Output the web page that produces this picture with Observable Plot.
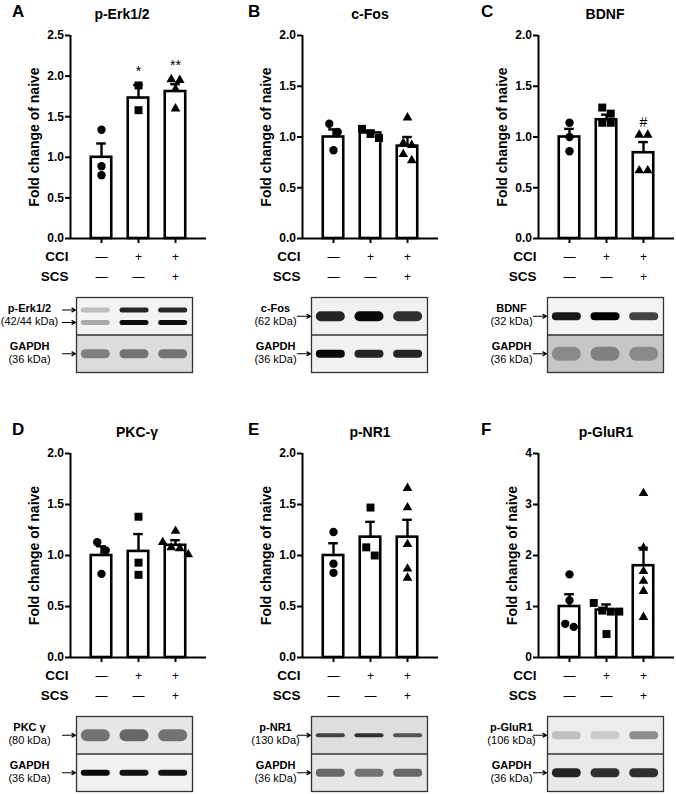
<!DOCTYPE html>
<html><head><meta charset="utf-8">
<script src="https://cdn.jsdelivr.net/npm/d3@7"></script>
<script src="https://cdn.jsdelivr.net/npm/@observablehq/plot@0.6"></script>
<style>
body{margin:0;background:#fff;font-family:"Liberation Sans",Arial,Helvetica,sans-serif;}
#fig{position:relative;width:676px;height:794px;overflow:hidden;background:#fff;}
.abs{position:absolute;white-space:nowrap;line-height:1;color:#000;}
.letter{font-weight:bold;font-size:17px;}
.title{font-weight:bold;font-size:14px;transform:translateX(-50%);}
</style></head><body><div id="fig"></div>
<script>
// ---------------- DATA ----------------
const groupIndex = [1, 2, 3];
const groupNames = ["Naive", "CCI", "CCI + SCS"];
const cciSigns = ["—", "+", "+"];
const scsSigns = ["—", "—", "+"];
const groupSymbols = ["circle", "square", "triangle"];
const rowLabels = ["CCI", "SCS"];
const yLabel = "Fold change of naive";

const panelLetters = ["A", "B", "C", "D", "E", "F"];
const panelTitles = ["p-Erk1/2", "c-Fos", "BDNF", "PKC-γ", "p-NR1", "p-GluR1"];

const yTicksA = [0, 0.5, 1, 1.5, 2, 2.5];
const yTickLabelsA = ["0.0", "0.5", "1.0", "1.5", "2.0", "2.5"];
const yTicks2 = [0, 0.5, 1, 1.5, 2];
const yTickLabels2 = ["0.0", "0.5", "1.0", "1.5", "2.0"];
const yTicksF = [0, 1, 2, 3, 4];
const yTickLabelsF = ["0", "1", "2", "3", "4"];

// A: p-Erk1/2
const meanA = [1.00, 1.73, 1.81];
const semA = [0.17, 0.16, 0.09];
const ptsA = [[1.34, 0.89, 0.78], [1.885, 1.58], [1.96, 1.95, 1.84, 1.60]];
const sigA = ["", "*", "**"];
const sigYA = [null, 2.06, 2.13];
// B: c-Fos
const meanB = [1.00, 1.04, 0.91];
const semB = [0.075, 0.025, 0.09];
const ptsB = [[1.13, 1.05, 0.87], [1.08, 1.03, 0.99], [1.19, 0.94, 0.92, 0.83, 0.77]];
const sigB = ["", "", ""];
const sigYB = [null, null, null];
// C: BDNF
const meanC = [1.00, 1.17, 0.845];
const semC = [0.08, 0.05, 0.105];
const ptsC = [[1.14, 1.00, 0.86], [1.29, 1.23, 1.14, 1.14], [1.02, 1.02, 0.67, 0.67]];
const sigC = ["", "", "#"];
const sigYC = [null, null, 1.14];
// D: PKC-gamma
const meanD = [1.00, 1.04, 1.10];
const semD = [0.09, 0.17, 0.05];
const ptsD = [[1.13, 1.05, 0.82], [1.38, 0.93, 0.81], [1.24, 1.13, 1.08, 1.07, 1.01]];
const sigD = ["", "", ""];
const sigYD = [null, null, null];
// E: p-NR1
const meanE = [1.00, 1.18, 1.18];
const semE = [0.12, 0.15, 0.17];
const ptsE = [[1.23, 0.92, 0.83], [1.47, 1.08, 1.00], [1.66, 1.47, 1.11, 0.87, 0.78]];
const sigE = ["", "", ""];
const sigYE = [null, null, null];
// F: p-GluR1
const meanF = [1.00, 0.93, 1.80];
const semF = [0.24, 0.11, 0.35];
const ptsF = [[1.63, 1.12, 0.66, 0.60], [1.07, 0.92, 0.90, 0.90, 0.46], [3.22, 2.15, 1.69, 1.50, 1.30, 0.79]];
const sigF = ["", "", ""];
const sigYF = [null, null, null];

// Western blots: relative band intensity per lane (0..1)
const blotNames = ["p-Erk1/2", "c-Fos", "BDNF", "PKC γ", "p-NR1", "p-GluR1"];
const blotKDa = ["(42/44 kDa)", "(62 kDa)", "(32 kDa)", "(80 kDa)", "(130 kDa)", "(106 kDa)"];
const loadingName = "GAPDH";
const loadingKDa = "(36 kDa)";
const bandsA = [[0.22, 0.85, 0.85], [0.30, 0.95, 0.95]];
const bandsB = [[0.85, 0.97, 0.80]];
const bandsC = [[0.90, 1.00, 0.72]];
const bandsD = [[0.50, 0.55, 0.50]];
const bandsE = [[0.70, 0.78, 0.62]];
const bandsF = [[0.18, 0.14, 0.40]];
const gapdhA = [0.42, 0.48, 0.48];
const gapdhB = [0.97, 0.85, 0.85];
const gapdhC = [0.30, 0.35, 0.30];
const gapdhD = [0.97, 0.92, 0.92];
const gapdhE = [0.55, 0.50, 0.55];
const gapdhF = [0.85, 0.80, 0.80];

// ---------------- LAYOUT / STYLE ----------------
const FONT = "Liberation Sans, Arial, Helvetica, sans-serif";
const W_FRAME = 136;
const colAxisX = [69.5, 301.5, 537.5];
const rowTopY = [35, 453];
const rowZeroY = [238, 657];
const letterX = [12, 248, 481];
const letterBase = [17.5, 435];
const titleX = [[122, 370, 605], [137, 370, 606]];
const titleBase = [19, 437];
const blotLeft = [76, 311, 547];
const blotTop = [297, 716];
const blotW = 116, blotH = 75;
const blotLabelOff = [-47, -36, -36];
const xPad = 0.838;
const BAR_HALF = 0.277;
const CAP_HALF = 0.13;
const SYMBOL_R = {circle: 4.2, square: 4.5, triangle: 3.6};
const blotStyles = [
  {bgTop: "#f3f3f3", bgBottom: "#dcdcdc", bandH: 5, gapdhH: 9, blur: 1.6},
  {bgTop: "#f1f1f1", bgBottom: "#f1f1f1", bandH: 10, gapdhH: 8, blur: 1.6},
  {bgTop: "#f4f4f4", bgBottom: "#c6c6c6", bandH: 8, gapdhH: 14, blur: 1.9},
  {bgTop: "#e7e7e7", bgBottom: "#f1f1f1", bandH: 12, gapdhH: 6, blur: 2.0},
  {bgTop: "#dedede", bgBottom: "#e6e6e6", bandH: 4, gapdhH: 8, blur: 1.3},
  {bgTop: "#ececec", bgBottom: "#e9e9e9", bandH: 8, gapdhH: 9, blur: 1.9}
];

const panels = [
  {ticks: yTicksA, tickLabels: yTickLabelsA, mean: meanA, sem: semA, pts: ptsA, sig: sigA, sigY: sigYA, bands: bandsA, gapdh: gapdhA},
  {ticks: yTicks2, tickLabels: yTickLabels2, mean: meanB, sem: semB, pts: ptsB, sig: sigB, sigY: sigYB, bands: bandsB, gapdh: gapdhB},
  {ticks: yTicks2, tickLabels: yTickLabels2, mean: meanC, sem: semC, pts: ptsC, sig: sigC, sigY: sigYC, bands: bandsC, gapdh: gapdhC},
  {ticks: yTicks2, tickLabels: yTickLabels2, mean: meanD, sem: semD, pts: ptsD, sig: sigD, sigY: sigYD, bands: bandsD, gapdh: gapdhD},
  {ticks: yTicks2, tickLabels: yTickLabels2, mean: meanE, sem: semE, pts: ptsE, sig: sigE, sigY: sigYE, bands: bandsE, gapdh: gapdhE},
  {ticks: yTicksF, tickLabels: yTickLabelsF, mean: meanF, sem: semF, pts: ptsF, sig: sigF, sigY: sigYF, bands: bandsF, gapdh: gapdhF}
];

const fig = document.getElementById("fig");

// horizontal spreading of overlapping points (GraphPad-like scatter)
function spread(values, pxY, size) {
  const order = values.map((v, j) => j).sort((a, b) => values[b] - values[a]);
  const out = new Array(values.length).fill(0);
  let cluster = [];
  const flush = () => { cluster.forEach((j, k) => out[j] = (k - (cluster.length - 1) / 2) * size); cluster = []; };
  order.forEach(j => {
    if (cluster.length && (values[cluster[cluster.length - 1]] - values[j]) * pxY >= size) flush();
    cluster.push(j);
  });
  flush();
  return out;
}

function place(el, left, top) {
  el.style.position = "absolute";
  el.style.left = left + "px";
  el.style.top = top + "px";
  fig.appendChild(el);
}

function drawChart(p, k, col, row) {
  const mL = 70, mR = 8, mT = 12, mB = 52;
  const frameH = rowZeroY[row] - rowTopY[row];
  const ymax = p.ticks[p.ticks.length - 1];
  const pxX = W_FRAME / (2 + 2 * xPad);
  const pxY = frameH / ymax;
  const summary = groupIndex.map((g, i) => ({i: g, mean: p.mean[i], top: p.mean[i] + p.sem[i], sig: p.sig[i], sigY: p.sigY[i]}));
  const dots = [];
  groupIndex.forEach((g, i) => {
    const offs = spread(p.pts[i], pxY, 8.5);
    p.pts[i].forEach((v, j) => dots.push({x: g + offs[j] / pxX, v, sym: groupSymbols[i]}));
  });
  const tickMap = new Map(p.ticks.map((t, j) => [t, p.tickLabels[j]]));
  const maxChars = d3.max(p.tickLabels, s => s.length);
  const svg = Plot.plot({
    width: mL + W_FRAME + mR, height: mT + frameH + mB,
    marginLeft: mL, marginRight: mR, marginTop: mT, marginBottom: mB,
    x: {domain: [1 - xPad, 3 + xPad]},
    y: {domain: [0, ymax]},
    style: {fontFamily: FONT, fontSize: "12px", fontWeight: "bold", background: "transparent", color: "black", overflow: "visible"},
    marks: [
      Plot.rect(summary, {x1: d => d.i - BAR_HALF, x2: d => d.i + BAR_HALF, y1: 0, y2: "mean", fill: "white", stroke: "black", strokeWidth: 2.6}),
      Plot.ruleX(summary, {x: "i", y1: "mean", y2: "top", stroke: "black", strokeWidth: 2.4}),
      Plot.ruleY(summary, {y: "top", x1: d => d.i - CAP_HALF, x2: d => d.i + CAP_HALF, stroke: "black", strokeWidth: 2.4}),
      ...groupSymbols.map(s => Plot.dot(dots.filter(d => d.sym === s), {x: "x", y: "v", symbol: s, r: SYMBOL_R[s], fill: "black", stroke: "none"})),
      Plot.text(summary.filter(d => d.sig), {x: "i", y: "sigY", text: "sig", fontSize: 14, fontWeight: "normal"}),
      Plot.ruleY([0], {stroke: "black", strokeWidth: 2}),
      Plot.ruleX([1 - xPad], {stroke: "black", strokeWidth: 2}),
      Plot.axisY({ticks: p.ticks, tickFormat: d => tickMap.get(d), tickSize: 5, tickPadding: 1.5, strokeWidth: 2, fontSize: 12, fontWeight: "bold", label: null}),
      Plot.axisX({ticks: groupIndex, tickFormat: () => "", tickSize: 5, strokeWidth: 2, label: null}),
      Plot.text([yLabel], {text: d => d, frameAnchor: "left", textAnchor: "middle", lineAnchor: "middle", rotate: -90, dx: -(21 + 5 * maxChars), fontSize: 14, fontWeight: "bold"}),
      Plot.text(summary, {x: "i", text: (d, j) => cciSigns[j], frameAnchor: "bottom", dy: 22, fontSize: 12, fontWeight: "normal"}),
      Plot.text(summary, {x: "i", text: (d, j) => scsSigns[j], frameAnchor: "bottom", dy: 42, fontSize: 12, fontWeight: "normal"}),
      Plot.text([rowLabels[0]], {text: d => d, frameAnchor: "bottom-left", dx: -2, dy: 22, textAnchor: "end", fontSize: 13.5, fontWeight: "bold"}),
      Plot.text([rowLabels[1]], {text: d => d, frameAnchor: "bottom-left", dx: -2, dy: 42, textAnchor: "end", fontSize: 13.5, fontWeight: "bold"})
    ]
  });
  place(svg, colAxisX[col] - mL, rowTopY[row] - mT);
}

function drawBlot(p, k, col, row) {
  const st = blotStyles[k];
  const mL = 82, mR = 2, mT = 2, mB = 2;
  const W = mL + blotW + mR, H = mT + blotH + mB;
  const pxLane = blotW / 3;
  const bandLen = 29;
  const sections = [{s: 0, fill: st.bgTop}, {s: 1, fill: st.bgBottom}];
  const nb = p.bands.length;
  const protBands = p.bands.flatMap((r, ri) => r.map((v, l) => ({lane: l, y: (ri + 1) / (nb + 1), v})));
  const gBands = p.gapdh.map((v, l) => ({lane: l, y: 1.5, v}));
  const arrowYs = [...p.bands.map((r, ri) => (ri + 1) / (nb + 1)), 1.5];
  const inset = h => ((pxLane - bandLen) / 2 + h / 2) / pxLane;
  const iP = inset(st.bandH), iG = inset(st.gapdhH);
  const svg = Plot.plot({
    width: W, height: H, marginLeft: mL, marginRight: mR, marginTop: mT, marginBottom: mB,
    x: {domain: [0, 3], axis: null},
    y: {domain: [0, 2], reverse: true, axis: null},
    color: {type: "identity"},
    opacity: {domain: [0, 1], range: [0, 1]},
    style: {fontFamily: FONT, fontSize: "11px", background: "transparent", color: "black", overflow: "visible"},
    marks: [
      Plot.rect(sections, {x1: 0, x2: 3, y1: "s", y2: d => d.s + 1, fill: "fill"}),
      Plot.ruleY(protBands, {y: "y", x1: d => d.lane + iP, x2: d => d.lane + 1 - iP, stroke: "black", strokeOpacity: "v", strokeWidth: st.bandH, strokeLinecap: "round", ariaLabel: "band"}),
      Plot.ruleY(gBands, {y: "y", x1: d => d.lane + iG, x2: d => d.lane + 1 - iG, stroke: "black", strokeOpacity: "v", strokeWidth: st.gapdhH, strokeLinecap: "round", ariaLabel: "band"}),
      Plot.frame({stroke: "#333", strokeWidth: 1.3}),
      Plot.ruleY([1], {stroke: "#333", strokeWidth: 1.5}),
      Plot.arrow(arrowYs, {x1: -14 / pxLane, x2: -1 / pxLane, y1: d => d, y2: d => d, stroke: "black", strokeWidth: 1.2, headLength: 5, headAngle: 55}),
      Plot.text([blotNames[k]], {text: d => d, x: 0, y: 0.3, dx: blotLabelOff[col], fontWeight: "bold", fontSize: 11}),
      Plot.text([blotKDa[k]], {text: d => d, x: 0, y: 0.64, dx: blotLabelOff[col], fontWeight: "normal", fontSize: 11}),
      Plot.text([loadingName], {text: d => d, x: 0, y: 1.3, dx: blotLabelOff[col], fontWeight: "bold", fontSize: 11}),
      Plot.text([loadingKDa], {text: d => d, x: 0, y: 1.64, dx: blotLabelOff[col], fontWeight: "normal", fontSize: 11})
    ]
  });
  const fid = "blur" + k;
  const sel = d3.select(svg);
  const f = sel.insert("defs", ":first-child").append("filter").attr("id", fid)
    .attr("filterUnits", "userSpaceOnUse").attr("x", 0).attr("y", 0).attr("width", W).attr("height", H);
  f.append("feGaussianBlur").attr("stdDeviation", st.blur);
  sel.selectAll('g[aria-label="band"]').attr("filter", `url(#${fid})`);
  place(svg, blotLeft[col] - mL, blotTop[row] - mT);
}

panels.forEach((p, k) => {
  const col = k % 3, row = Math.floor(k / 3);
  const L = document.createElement("div");
  L.className = "abs letter"; L.textContent = panelLetters[k];
  place(L, letterX[col], letterBase[row] - 14.4);
  const T = document.createElement("div");
  T.className = "abs title"; T.textContent = panelTitles[k];
  place(T, titleX[row][col], titleBase[row] - 11.9);
  drawChart(p, k, col, row);
  drawBlot(p, k, col, row);
});
</script></body></html>
